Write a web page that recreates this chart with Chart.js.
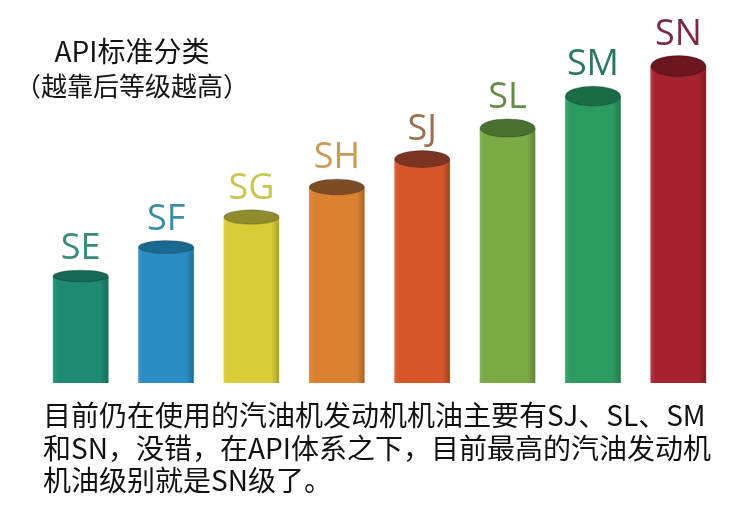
<!DOCTYPE html>
<html>
<head>
<meta charset="utf-8">
<script src="https://cdn.jsdelivr.net/npm/chart.js@4"></script>
<style>
  html, body { margin: 0; padding: 0; background: #fff; }
  #wrap { position: relative; width: 744px; height: 513px; overflow: hidden; }
  #chart { position: absolute; left: 0; top: 0; }
  .title {
    position: absolute; left: 0; width: 264px;
    text-align: center; color: #141414; white-space: nowrap;
    font-family: "Noto Sans CJK SC", "Noto Sans", sans-serif;
    line-height: normal;
  }
  .t1 { top: 30px; font-size: 28px; }
  .t2 { top: 66px; font-size: 26px; }
  .note {
    position: absolute; left: 43px; top: 398px;
    color: #111; white-space: pre;
    font-family: "Noto Sans CJK SC", sans-serif;
    font-size: 28px; line-height: 32.5px;
  }
</style>
</head>
<body>
<div id="wrap">
  <canvas id="chart" width="744" height="513"></canvas>
  <div class="title t1">API标准分类</div>
  <div class="title t2">（越靠后等级越高）</div>
  <div class="note">目前仍在使用的汽油机发动机机油主要有SJ、SL、SM
和SN，没错，在API体系之下，目前最高的汽油发动机
机油级别就是SN级了。</div>
</div>
<script>
// API grades, oldest -> newest
const grades = ['SE', 'SF', 'SG', 'SH', 'SJ', 'SL', 'SM', 'SN'];
// bar heights (relative level)
const levels = [107, 136, 166, 196, 224, 255, 287, 317];
const bodyColors = ['#1f8a72', '#2a8cc2', '#d8cd38', '#da8232', '#d6562a', '#7caa46', '#2b9b5f', '#a5232f'];
const topColors = ['#166a55', '#1b6891', '#8f8c2e', '#7d4b26', '#7b3324', '#4b7131', '#1b6b47', '#6b1620'];
const labelColors = ['#3a8a7b', '#3a8da6', '#c9c64f', '#c99a52', '#9a704f', '#698a49', '#2a7a5a', '#7b2a42'];

// draws the cylinder look (side shading, elliptical top) and grade names
const cylinderPlugin = {
    id: 'cylinders',
    afterDatasetsDraw(chart) {
        const ctx = chart.ctx;
        const meta = chart.getDatasetMeta(0);
        meta.data.forEach((bar, i) => {
            const { x, y, width, base } = bar.getProps(['x', 'y', 'width', 'base'], true);
            const left = x - width / 2;
            const ry = 3.5 + 0.022 * (base - y);

            ctx.save();
            // side shading
            const g = ctx.createLinearGradient(left, 0, left + width, 0);
            g.addColorStop(0, 'rgba(255,255,255,0.10)');
            g.addColorStop(0.08, 'rgba(255,255,255,0)');
            g.addColorStop(0.86, 'rgba(0,0,0,0)');
            g.addColorStop(1, 'rgba(0,0,0,0.22)');
            ctx.fillStyle = g;
            ctx.fillRect(left, y, width, base - y);

            // top
            ctx.beginPath();
            ctx.ellipse(x, y, width / 2, ry, 0, 0, Math.PI * 2);
            ctx.fillStyle = topColors[i];
            ctx.fill();
            ctx.lineWidth = 1.2;
            ctx.strokeStyle = 'rgba(0,0,0,0.18)';
            ctx.stroke();

            // label
            ctx.fillStyle = labelColors[i];
            ctx.font = '36px "Open Sans", "Noto Sans", sans-serif';
            ctx.textAlign = 'center';
            ctx.textBaseline = 'alphabetic';
            ctx.fillText(grades[i], x, y - ry - 11);
            ctx.restore();
        });
    }
};

new Chart(document.getElementById('chart'), {
    type: 'bar',
    data: {
        labels: grades,
        datasets: [{
            data: levels,
            backgroundColor: bodyColors,
            borderWidth: 0,
            barThickness: 55
        }]
    },
    options: {
        responsive: false,
        animation: false,
        layout: { padding: { left: 38, right: 23, top: 43, bottom: 130 } },
        plugins: {
            legend: { display: false },
            tooltip: { enabled: false }
        },
        scales: {
            x: { display: false, offset: true },
            y: { display: false, min: 0, max: 340 }
        }
    },
    plugins: [cylinderPlugin]
});
</script>
</body>
</html>
